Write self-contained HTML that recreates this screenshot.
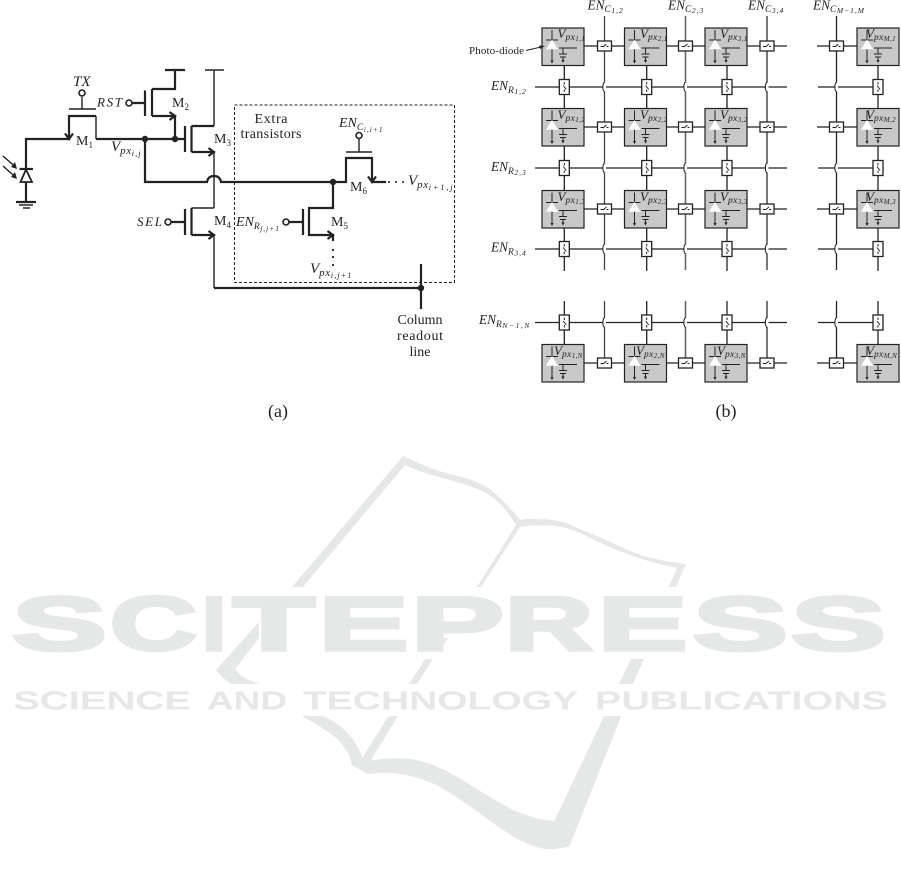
<!DOCTYPE html>
<html>
<head>
<meta charset="utf-8">
<style>
html,body{margin:0;padding:0;background:#fff;}
#page{position:relative;width:901px;height:884px;overflow:hidden;background:#fff;}
#page svg{position:absolute;left:0;top:0;}
#wm{position:absolute;left:0;top:587px;height:76px;width:901px;font:bold 76px/76px "Liberation Sans",sans-serif;color:#e6e8e7;-webkit-text-stroke:3.5px #e6e8e7;}
#wm span{position:absolute;top:0;transform-origin:0 50%;}
text{font-family:"Liberation Serif",serif;fill:#222;}
.i{font-style:italic;}
.w{stroke:#222;fill:none;stroke-width:1.4;}
.t{stroke:#222;fill:none;stroke-width:2.2;}
.g{stroke:#222;fill:none;stroke-width:1.3;}
.wmw{font-family:"Liberation Sans",sans-serif;font-weight:bold;font-size:26px;fill:#e6e8e7;}
.a{font-size:9.5px;letter-spacing:.5px;}
.b{font-size:7.5px;letter-spacing:1px;}
.c{font-size:9.5px;letter-spacing:.4px;}
.d{font-size:7px;letter-spacing:.4px;}
.e{font-size:11px;letter-spacing:.6px;}
.f{font-size:8px;letter-spacing:1.2px;}
</style>
</head>
<body>
<div id="page">
<svg width="901" height="884" viewBox="0 0 901 884" xmlns="http://www.w3.org/2000/svg">
<defs>
<g id="c">
<rect x="0" y="0" width="42" height="37.5" fill="#c8c8c8" stroke="#222" stroke-width="1.2"/>
<path d="M10 2V34M4 12H16M17 20H35M21 20V26M17 26H25M18 29H24M21 29V33" stroke="#222" stroke-width="1" fill="none"/>
<path d="M10 12L4.5 21H15.5Z" fill="#fff" stroke="#fff" stroke-width=".6"/>
<path d="M8.4 32.5L10 35.5L11.6 32.5ZM19.4 32L21 35L22.6 32Z" fill="#222"/>
</g>
<g id="sh">
<rect x="-7" y="-5" width="14" height="10" fill="#fff" stroke="#222" stroke-width="1.3"/>
<path d="M-4 .5H-1.5M-1.5 1L2 -2M2 .5H4" stroke="#222" stroke-width="1" fill="none"/>
</g>
<g id="sv">
<rect x="-5" y="-7.5" width="10" height="15" fill="#fff" stroke="#222" stroke-width="1.3"/>
<path d="M0 -5V-2.5M-1 -1.5L2 2.5M0 2.5V5" stroke="#222" stroke-width="1" fill="none"/>
</g>
<g id="hop">
<rect x="-1.5" y="-4.5" width="3" height="9" fill="#fff"/>
<path d="M0 -5Q-2 -3 -1.5 0Q-2 3 0 5" stroke="#222" stroke-width="1" fill="none"/>
</g>
</defs>

<!-- logo background -->
<g fill="#e6e8e7">
<path d="M403 456L416 462Q438 472 462 477Q480 482 491 490Q508 504 520 520Q530 518 538 519Q553 519 566 523Q590 533 613 543Q630 552 647 557Q668 562 686 564L676 587H669L677 568Q652 563 630 555Q610 548 590 538Q572 528 555 526Q537 524 520 527L481 587H477L516 525Q510 515 503 507Q495 498 486 493Q472 486 457 482Q438 477 422 472Q413 469 405 465L303 587H292Z"/>
<path d="M259 622V638L235 669Q239 674 243 677Q250 681 260 684H231Q222 678 216 670Z"/>
<path d="M441 638H448L441 649ZM425 659H433L417 684H409ZM631 659H644L633 684H619Z"/>
<g transform="translate(180,640) scale(.33333)">
<path d="M365 228H432Q460 243 480 258Q505 278 520 300Q537 325 548 352L625 228H654L572 362Q610 355 640 355Q670 355 700 358Q730 365 760 375Q795 390 830 410Q875 437 920 465Q960 490 1000 510Q1030 523 1060 532Q1090 540 1123 543L1272 228H1324L1168 620Q1140 626 1110 628Q1085 627 1060 618Q1030 607 1000 590Q960 565 920 535Q880 505 840 478Q805 455 770 435Q735 420 700 410Q665 402 630 398Q595 398 562 402L515 375Q512 355 505 340Q490 315 470 295Q447 277 420 260Q393 243 365 228Z"/>
</g>
<text class="wmw" x="13" y="709.5" textLength="178" lengthAdjust="spacingAndGlyphs">SCIENCE</text>
<text class="wmw" x="207" y="709.5" textLength="80" lengthAdjust="spacingAndGlyphs">AND</text>
<text class="wmw" x="303" y="709.5" textLength="275" lengthAdjust="spacingAndGlyphs">TECHNOLOGY</text>
<text class="wmw" x="595" y="709.5" textLength="293" lengthAdjust="spacingAndGlyphs">PUBLICATIONS</text>
</g>

<!-- (a) circuit -->
<g stroke-linecap="butt">
<path class="t" d="M26 169V139H69V116H96M69 116V139"/>
<path class="w" d="M96 116V139"/>
<path class="t" d="M96 139H184"/>
<path class="t" d="M65 133.5L69 139L73 133.5" />
<path class="w" d="M69 109H96M82 109V97"/>
<circle cx="82" cy="93" r="3" fill="#fff" stroke="#222" stroke-width="1.6"/>
<path class="t" d="M26 182V202"/>
<path class="t" d="M19.5 169H33"/>
<path d="M26 169.5L20.5 182H32Z" fill="#fff" stroke="#222" stroke-width="1.8"/>
<path class="t" d="M16 202H36"/>
<path class="w" d="M19 205H33M23 208H30"/>
<path class="w" d="M3 156L16 167.5M3 166L16 177.5"/>
<path d="M11 167L17 169L15 162ZM11 177L17 179L15 172Z" fill="#222"/>
<!-- M2 -->
<circle cx="129" cy="103" r="3" fill="#fff" stroke="#222" stroke-width="1.6"/>
<path class="t" d="M132 103H145M145 90.5V116M152 89V116M152 89H175V70M165 70H185M152 116H175V139"/>
<path class="t" d="M169.5 112L175 116L169.5 120"/>
<circle cx="175" cy="139" r="3.2" fill="#222"/>
<circle cx="145" cy="139" r="3.2" fill="#222"/>
<!-- M3 -->
<path class="t" d="M185 126V152M191.5 126V152M191.5 126H214M191.5 152H214"/>
<path class="t" d="M208.5 148L214 152L208.5 156"/>
<path class="w" stroke-width="1.5" d="M214 70V126M205 70H224"/>
<path class="w" d="M214 152V208"/>
<!-- crossing -->
<path class="t" d="M145 139V182H207Q208 176 214 176Q220 176 221 182H333"/>
<circle cx="333" cy="182" r="3.2" fill="#222"/>
<!-- M4 -->
<circle cx="168" cy="222" r="3" fill="#fff" stroke="#222" stroke-width="1.6"/>
<path class="t" d="M171 222H185M185 209V235M191.5 208V235M191.5 235H214"/>
<path class="w" d="M191.5 208H214"/>
<path class="t" d="M208.5 231L214 235L208.5 239"/>
<path class="w" d="M214 235V288"/>
<path class="t" d="M214 288H421M421 264V309"/>
<circle cx="421" cy="288" r="3.2" fill="#222"/>
<!-- M6 -->
<path class="t" d="M333 182H346V158H372V182H386"/>
<path class="t" d="M368 176.5L372 182L376 176.5"/>
<path class="w" d="M346 152H372M359 152V139"/>
<circle cx="359" cy="135.5" r="3" fill="#fff" stroke="#222" stroke-width="1.6"/>
<circle cx="389" cy="182" r="1" fill="#222"/><circle cx="396" cy="182" r="1" fill="#222"/><circle cx="403" cy="182" r="1" fill="#222"/>
<!-- M5 -->
<path class="t" d="M333 182V208H309V235H333V241M303 209V235M289 222H303"/>
<path class="t" d="M327.5 231L333 235L327.5 239"/>
<circle cx="286" cy="222" r="3" fill="#fff" stroke="#222" stroke-width="1.6"/>
<circle cx="333" cy="250" r="1.1" fill="#222"/><circle cx="333" cy="257" r="1.1" fill="#222"/><circle cx="333" cy="265" r="1.1" fill="#222"/>
<rect x="234.5" y="105" width="220" height="177.5" fill="none" stroke="#222" stroke-width="1" stroke-dasharray="3 2"/>
</g>
<!-- labels a -->
<text class="i" x="73" y="86" font-size="15">TX</text>
<text class="i" x="97" y="106.5" font-size="13" textLength="25">RST</text>
<text class="i" x="137" y="226" font-size="13" textLength="25">SEL</text>
<text x="76" y="145" font-size="14">M<tspan dy="3" font-size="9">1</tspan></text>
<text x="172" y="107" font-size="14">M<tspan dy="3" font-size="9">2</tspan></text>
<text x="214" y="143" font-size="14">M<tspan dy="3" font-size="9">3</tspan></text>
<text x="214" y="225" font-size="14">M<tspan dy="3" font-size="9">4</tspan></text>
<text x="350" y="191" font-size="14">M<tspan dy="3" font-size="9">6</tspan></text>
<text x="331" y="226" font-size="14">M<tspan dy="3" font-size="9">5</tspan></text>
<text class="i" x="111" y="151" font-size="15">V<tspan dy="3" class="e">px</tspan><tspan dy="2" class="f">i,j</tspan></text>
<text class="i" x="408" y="185" font-size="15">V<tspan dy="3" class="e">px</tspan><tspan dy="2" class="f" style="letter-spacing:2px">i+1,j</tspan></text>
<text class="i" x="310" y="273" font-size="15">V<tspan dy="3" class="e">px</tspan><tspan dy="2" class="f">i,j+1</tspan></text>
<text class="i" x="339" y="127" font-size="14">EN<tspan dy="3" class="a">C</tspan><tspan dy="2" class="b">i,i+1</tspan></text>
<text class="i" x="236" y="226" font-size="14">EN<tspan dy="3" class="a">R</tspan><tspan dy="2" class="b">j,j+1</tspan></text>
<text x="271" y="123" font-size="14" text-anchor="middle" textLength="33">Extra</text>
<text x="271" y="138" font-size="14" text-anchor="middle" textLength="61">transistors</text>
<text x="420" y="324" font-size="14" text-anchor="middle" textLength="45">Column</text>
<text x="420" y="340" font-size="14" text-anchor="middle" textLength="46">readout</text>
<text x="420" y="356" font-size="14" text-anchor="middle">line</text>
<text x="278" y="417" font-size="18" text-anchor="middle">(a)</text>
<text x="726" y="417" font-size="18" text-anchor="middle">(b)</text>

<!-- (b) grid wires -->
<g>
<path class="g" d="M535 87H787M818 87H878M535 168H787M818 168H878M535 249H787M818 249H878M535 322.5H787M818 322.5H878"/>
<path class="g" d="M584 46H624M666 46H705M747 46H787M817 46H857M584 127H624M666 127H705M747 127H787M817 127H857M584 209H624M666 209H705M747 209H787M817 209H857M584 363H624M666 363H705M747 363H787M817 363H857"/>
<path class="g" d="M564.3 65V271M646.7 65V271M727 65V271M878 65V271M564.3 301V345M646.7 301V345M727 301V345M878 301V345"/>
<path d="M604.5 16V270M604.5 301V358" stroke="#444" stroke-width="1.3" fill="none"/>
<path d="M685.5 16V270M685.5 301V358" stroke="#666" stroke-width="1.6" fill="none"/>
<path d="M767 16V270M767 301V358" stroke="#777" stroke-width="2" fill="none"/>
<path d="M836.5 16V270M836.5 301V358" stroke="#222" stroke-width="1.3" fill="none"/>
</g>
<use href="#hop" x="604.5" y="87"/><use href="#hop" x="685.5" y="87"/><use href="#hop" x="767" y="87"/><use href="#hop" x="836.5" y="87"/>
<use href="#hop" x="604.5" y="168"/><use href="#hop" x="685.5" y="168"/><use href="#hop" x="767" y="168"/><use href="#hop" x="836.5" y="168"/>
<use href="#hop" x="604.5" y="249"/><use href="#hop" x="685.5" y="249"/><use href="#hop" x="767" y="249"/><use href="#hop" x="836.5" y="249"/>
<use href="#hop" x="604.5" y="322.5"/><use href="#hop" x="685.5" y="322.5"/><use href="#hop" x="767" y="322.5"/><use href="#hop" x="836.5" y="322.5"/>

<use href="#c" x="542" y="28"/><use href="#c" x="624.5" y="28"/><use href="#c" x="705" y="28"/><use href="#c" x="857" y="28"/>
<use href="#c" x="542" y="108.5"/><use href="#c" x="624.5" y="108.5"/><use href="#c" x="705" y="108.5"/><use href="#c" x="857" y="108.5"/>
<use href="#c" x="542" y="190.5"/><use href="#c" x="624.5" y="190.5"/><use href="#c" x="705" y="190.5"/><use href="#c" x="857" y="190.5"/>
<use href="#c" x="542" y="344.5"/><use href="#c" x="624.5" y="344.5"/><use href="#c" x="705" y="344.5"/><use href="#c" x="857" y="344.5"/>

<use href="#sh" x="604.5" y="46"/><use href="#sh" x="685.5" y="46"/><use href="#sh" x="767" y="46"/><use href="#sh" x="836.5" y="46"/>
<use href="#sh" x="604.5" y="127"/><use href="#sh" x="685.5" y="127"/><use href="#sh" x="767" y="127"/><use href="#sh" x="836.5" y="127"/>
<use href="#sh" x="604.5" y="209"/><use href="#sh" x="685.5" y="209"/><use href="#sh" x="767" y="209"/><use href="#sh" x="836.5" y="209"/>
<use href="#sh" x="604.5" y="363"/><use href="#sh" x="685.5" y="363"/><use href="#sh" x="767" y="363"/><use href="#sh" x="836.5" y="363"/>

<use href="#sv" x="564.3" y="87"/><use href="#sv" x="646.7" y="87"/><use href="#sv" x="727" y="87"/><use href="#sv" x="878" y="87"/>
<use href="#sv" x="564.3" y="168"/><use href="#sv" x="646.7" y="168"/><use href="#sv" x="727" y="168"/><use href="#sv" x="878" y="168"/>
<use href="#sv" x="564.3" y="249"/><use href="#sv" x="646.7" y="249"/><use href="#sv" x="727" y="249"/><use href="#sv" x="878" y="249"/>
<use href="#sv" x="564.3" y="322.5"/><use href="#sv" x="646.7" y="322.5"/><use href="#sv" x="727" y="322.5"/><use href="#sv" x="878" y="322.5"/>

<!-- cell labels -->
<text class="i" x="557.5" y="38" font-size="13">V<tspan dy="2" class="c">px</tspan><tspan dy="1" class="d">1,1</tspan></text>
<text class="i" x="640" y="38" font-size="13">V<tspan dy="2" class="c">px</tspan><tspan dy="1" class="d">2,1</tspan></text>
<text class="i" x="720" y="38" font-size="13">V<tspan dy="2" class="c">px</tspan><tspan dy="1" class="d">3,1</tspan></text>
<text class="i" x="866" y="38" font-size="13">V<tspan dy="2" class="c">px</tspan><tspan dy="1" class="d">M,1</tspan></text>
<text class="i" x="557.5" y="119" font-size="13">V<tspan dy="2" class="c">px</tspan><tspan dy="1" class="d">1,2</tspan></text>
<text class="i" x="640" y="119" font-size="13">V<tspan dy="2" class="c">px</tspan><tspan dy="1" class="d">2,2</tspan></text>
<text class="i" x="720" y="119" font-size="13">V<tspan dy="2" class="c">px</tspan><tspan dy="1" class="d">3,2</tspan></text>
<text class="i" x="866" y="119" font-size="13">V<tspan dy="2" class="c">px</tspan><tspan dy="1" class="d">M,2</tspan></text>
<text class="i" x="557.5" y="201" font-size="13">V<tspan dy="2" class="c">px</tspan><tspan dy="1" class="d">1,3</tspan></text>
<text class="i" x="640" y="201" font-size="13">V<tspan dy="2" class="c">px</tspan><tspan dy="1" class="d">2,3</tspan></text>
<text class="i" x="720" y="201" font-size="13">V<tspan dy="2" class="c">px</tspan><tspan dy="1" class="d">3,3</tspan></text>
<text class="i" x="866" y="201" font-size="13">V<tspan dy="2" class="c">px</tspan><tspan dy="1" class="d">M,3</tspan></text>
<text class="i" x="554" y="355" font-size="13">V<tspan dy="2" class="c">px</tspan><tspan dy="1" class="d">1,N</tspan></text>
<text class="i" x="636" y="355" font-size="13">V<tspan dy="2" class="c">px</tspan><tspan dy="1" class="d">2,N</tspan></text>
<text class="i" x="717" y="355" font-size="13">V<tspan dy="2" class="c">px</tspan><tspan dy="1" class="d">3,N</tspan></text>
<text class="i" x="866" y="355" font-size="13">V<tspan dy="2" class="c">px</tspan><tspan dy="1" class="d">M,N</tspan></text>

<text class="i" x="587.5" y="9.5" font-size="13.3">EN<tspan dy="2.5" class="a">C</tspan><tspan dy="1" class="b">1,2</tspan></text>
<text class="i" x="668" y="9.5" font-size="13.3">EN<tspan dy="2.5" class="a">C</tspan><tspan dy="1" class="b">2,3</tspan></text>
<text class="i" x="748" y="9.5" font-size="13.3">EN<tspan dy="2.5" class="a">C</tspan><tspan dy="1" class="b">3,4</tspan></text>
<text class="i" x="813" y="9.5" font-size="13.3">EN<tspan dy="2.5" class="a">C</tspan><tspan dy="1" class="b">M−1,M</tspan></text>
<text class="i" x="491" y="90" font-size="13.3">EN<tspan dy="3" class="a">R</tspan><tspan dy="1" class="b">1,2</tspan></text>
<text class="i" x="491" y="171" font-size="13.3">EN<tspan dy="3" class="a">R</tspan><tspan dy="1" class="b">2,3</tspan></text>
<text class="i" x="491" y="251.5" font-size="13.3">EN<tspan dy="3" class="a">R</tspan><tspan dy="1" class="b">3,4</tspan></text>
<text class="i" x="479" y="324" font-size="13.3">EN<tspan dy="3" class="a">R</tspan><tspan dy="1" class="b" style="letter-spacing:1.6px">N−1,N</tspan></text>
<text x="469" y="54" font-size="11" textLength="55">Photo-diode</text>
<path d="M526 50.5L541 47" stroke="#222" stroke-width="1" fill="none"/>
<path d="M545 46L539 45.5L540 49Z" fill="#222"/>
</svg>
<div id="wm"><span style="left:11.7px;transform:scaleX(1.87)">S</span><span style="left:109.7px;transform:scaleX(1.59)">C</span><span style="left:202px;transform:scaleX(1.14)">I</span><span style="left:233px;transform:scaleX(1.76)">T</span><span style="left:318.8px;transform:scaleX(1.76)">E</span><span style="left:410.5px;transform:scaleX(1.83)">P</span><span style="left:505.3px;transform:scaleX(1.6)">R</span><span style="left:597.8px;transform:scaleX(1.76)">E</span><span style="left:692.7px;transform:scaleX(1.87)">S</span><span style="left:790.7px;transform:scaleX(1.87)">S</span></div>
</div>
</body>
</html>
